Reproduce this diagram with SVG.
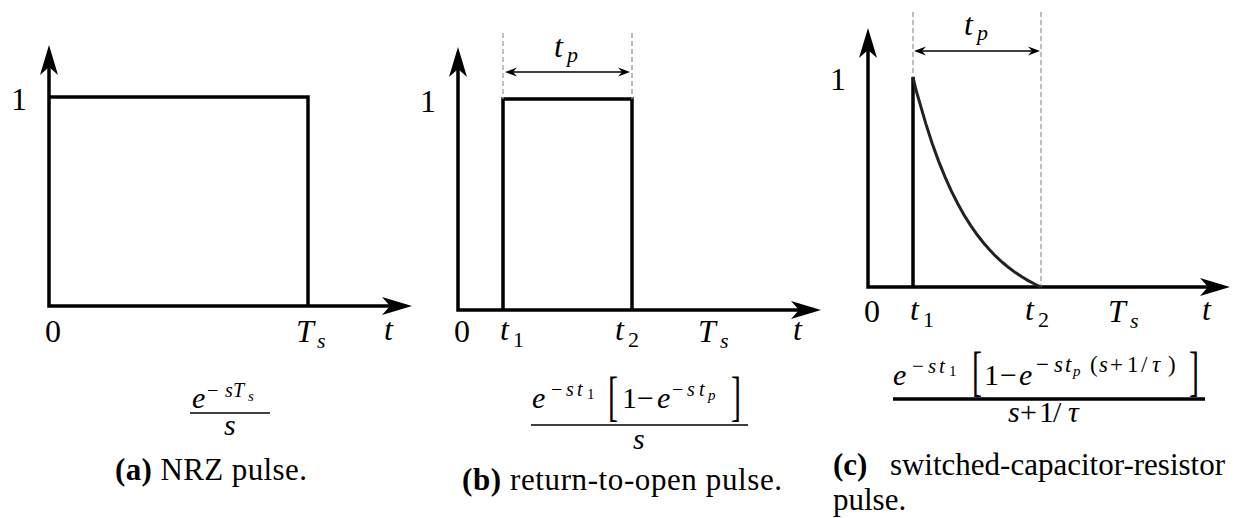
<svg xmlns="http://www.w3.org/2000/svg" width="1239" height="518" viewBox="0 0 1239 518">
<style>
.ax{stroke:#000;stroke-width:3.5;fill:none;stroke-linejoin:miter}
.pl{stroke:#000;stroke-width:3.5;fill:none;stroke-linejoin:miter}
.cv{stroke:#222;stroke-width:3;fill:none}
.dash{stroke:#999;stroke-width:1.3;stroke-dasharray:5 3;fill:none}
.dim{stroke:#000;stroke-width:1.5;fill:none}
.fr{stroke:#000;stroke-width:1.5}
.lb{font-family:'Liberation Serif',serif;font-size:32px;fill:#000}
.sb{font-family:'Liberation Serif',serif;font-size:22px;fill:#000}
.m{font-family:'Liberation Serif',serif;font-size:30px;fill:#000}
.sp{font-family:'Liberation Serif',serif;font-size:20px;fill:#000}
.sp2{font-family:'Liberation Serif',serif;font-size:21px;fill:#000}
.sp3{font-family:'Liberation Serif',serif;font-size:23px;fill:#000}
.ss{font-family:'Liberation Serif',serif;font-size:15px;fill:#000}
.br{font-family:'Liberation Serif',serif;font-size:30px;fill:#000}
.cap{font-family:'Liberation Serif',serif;font-size:31px;fill:#000}
.it{font-style:italic}
.b{font-weight:bold}
</style>
<defs>
<marker id="ah" markerUnits="userSpaceOnUse" viewBox="-31 -10 32 20" refX="-15" refY="0" markerWidth="32" markerHeight="20" orient="auto-start-reverse" overflow="visible"><path d="M0,0 L-30,-9 L-22,0 L-30,9 Z" fill="#000"/></marker>
<marker id="sa" markerUnits="userSpaceOnUse" viewBox="-13 -6 14 12" refX="-6" refY="0" markerWidth="14" markerHeight="12" orient="auto-start-reverse" overflow="visible"><path d="M0,0 L-12,-4.5 L-8,0 L-12,4.5 Z" fill="#000"/></marker>
</defs>

<g id="panel-a">
  <path class="ax" d="M49,60 V306 H397" marker-start="url(#ah)" marker-end="url(#ah)"/>
  <path class="pl" d="M49,97 H308 V306"/>
  <text class="lb" x="19" y="110" text-anchor="middle">1</text>
  <text class="lb" x="53" y="342" text-anchor="middle">0</text>
  <text class="lb it" x="296" y="342">T</text><text class="sb it" x="317" y="348">s</text>
  <text class="lb it" x="384" y="340">t</text>
  <g id="formula-a">
    <text class="m it" x="192" y="408">e</text>
    <text class="sp" x="207" y="397">−</text>
    <text class="sp it" x="225" y="397">s</text>
    <text class="sp it" x="233" y="397">T</text>
    <text class="ss it" x="248" y="401">s</text>
    <line class="fr" x1="190" y1="413" x2="270" y2="413"/>
    <text class="m it" x="224" y="435">s</text>
  </g>
  <text class="cap" x="115" y="480" textLength="192" lengthAdjust="spacing"><tspan class="b">(a)</tspan> NRZ pulse.</text>
</g>

<g id="panel-b">
  <path class="ax" d="M458,62 V310 H806" marker-start="url(#ah)" marker-end="url(#ah)"/>
  <path class="pl" d="M503,310 V99 H632 V310"/>
  <line class="dash" x1="503" y1="33" x2="503" y2="99"/>
  <line class="dash" x1="632" y1="33" x2="632" y2="99"/>
  <line class="dim" x1="511" y1="72" x2="624" y2="72" marker-start="url(#sa)" marker-end="url(#sa)"/>
  <text class="lb it" x="554" y="57">t</text><text class="sb it" x="567" y="62">p</text>
  <text class="lb" x="428" y="112" text-anchor="middle">1</text>
  <text class="lb" x="462" y="342" text-anchor="middle">0</text>
  <text class="lb it" x="500" y="340">t</text><text class="sb" x="513" y="347">1</text>
  <text class="lb it" x="615" y="340">t</text><text class="sb" x="628" y="347">2</text>
  <text class="lb it" x="698" y="342">T</text><text class="sb it" x="720" y="348">s</text>
  <text class="lb it" x="793" y="340">t</text>
  <g id="formula-b">
    <text class="m it" x="532" y="408">e</text>
    <text class="sp" x="551" y="396">−</text>
    <text class="sp it" x="566" y="396">s</text>
    <text class="sp it" x="577" y="396">t</text>
    <text class="ss" x="587" y="399">1</text>
    <text class="br" transform="translate(608,414.5) scale(1,1.8)">[</text>
    <text class="m" x="622" y="408">1</text>
    <text class="m" x="637" y="408">−</text>
    <text class="m it" x="657" y="408">e</text>
    <text class="sp" x="672" y="396">−</text>
    <text class="sp it" x="687" y="396">s</text>
    <text class="sp it" x="699" y="396">t</text>
    <text class="ss it" x="708" y="400">p</text>
    <text class="br" transform="translate(731,414.5) scale(1,1.8)">]</text>
    <line class="fr" x1="531" y1="425" x2="748" y2="425"/>
    <text class="m it" x="633" y="449">s</text>
  </g>
  <text class="cap" x="462" y="490" textLength="320" lengthAdjust="spacing"><tspan class="b">(b)</tspan> return-to-open pulse.</text>
</g>

<g id="panel-c">
  <path class="ax" d="M868,43 V287 H1215" marker-start="url(#ah)" marker-end="url(#ah)"/>
  <line class="dash" x1="913" y1="12" x2="913" y2="77"/>
  <line class="dash" x1="1041" y1="12" x2="1041" y2="287"/>
  <path class="pl" d="M913,287 V77"/>
  <path class="cv" d="M913,77 L916,90 L919.4,101.6 L925.8,123.6 L932.2,143.4 L938.6,161.1 L945,176.9 L951.4,191.1 L957.8,203.8 L964.2,215.2 L970.6,225.4 L977,234.5 L983.4,242.7 L989.8,250.1 L996.2,256.7 L1002.6,262.5 L1009,267.8 L1015.4,272.6 L1021.8,276.8 L1028.2,280.6 L1034.6,284 L1041,287"/>
  <line class="dim" x1="920" y1="51" x2="1034" y2="51" marker-start="url(#sa)" marker-end="url(#sa)"/>
  <text class="lb it" x="964" y="35">t</text><text class="sb it" x="977" y="40">p</text>
  <text class="lb" x="838" y="90" text-anchor="middle">1</text>
  <text class="lb" x="872" y="322" text-anchor="middle">0</text>
  <text class="lb it" x="910" y="320">t</text><text class="sb" x="923" y="327">1</text>
  <text class="lb it" x="1025" y="320">t</text><text class="sb" x="1038" y="327">2</text>
  <text class="lb it" x="1108" y="322">T</text><text class="sb it" x="1130" y="328">s</text>
  <text class="lb it" x="1202" y="320">t</text>
  <g id="formula-c">
    <text class="m it" x="893" y="385">e</text>
    <text class="sp2" x="912" y="373">−</text>
    <text class="sp2 it" x="928" y="373">s</text>
    <text class="sp2 it" x="939" y="373">t</text>
    <text class="ss" x="949" y="376">1</text>
    <text class="br" transform="translate(972,389.5) scale(1,1.8)">[</text>
    <text class="m" x="984" y="385">1</text>
    <text class="m" x="1000" y="385">−</text>
    <text class="m it" x="1019" y="385">e</text>
    <text class="sp3" x="1036" y="372">−</text>
    <text class="sp3 it" x="1054" y="372">s</text>
    <text class="sp3 it" x="1065" y="372">t</text>
    <text class="ss it" x="1073" y="376">p</text>
    <text class="sp3" x="1090" y="372">(</text>
    <text class="sp3 it" x="1099" y="372">s</text>
    <text class="sp3" x="1110" y="372">+</text>
    <text class="sp3" x="1127" y="372">1</text>
    <text class="sp3" x="1141" y="372">/</text>
    <text class="sp3 it" x="1152" y="372">τ</text>
    <text class="sp3" x="1168" y="372">)</text>
    <text class="br" transform="translate(1189,389.5) scale(1,1.8)">]</text>
    <line x1="893" y1="399" x2="1205" y2="399" stroke="#000" stroke-width="3.5"/>
    <text class="m it" x="1008" y="422">s</text>
    <text class="m" x="1020" y="422">+</text>
    <text class="m" x="1039" y="422">1</text>
    <text class="m" x="1053" y="422">/</text>
    <text class="m it" x="1068" y="422">τ</text>
  </g>
  <text class="cap" x="833" y="475"><tspan class="b">(c)</tspan></text>
  <text class="cap" x="1225" y="475" text-anchor="end">switched-capacitor-resistor</text>
  <text class="cap" x="833" y="510">pulse.</text>
</g>
</svg>
